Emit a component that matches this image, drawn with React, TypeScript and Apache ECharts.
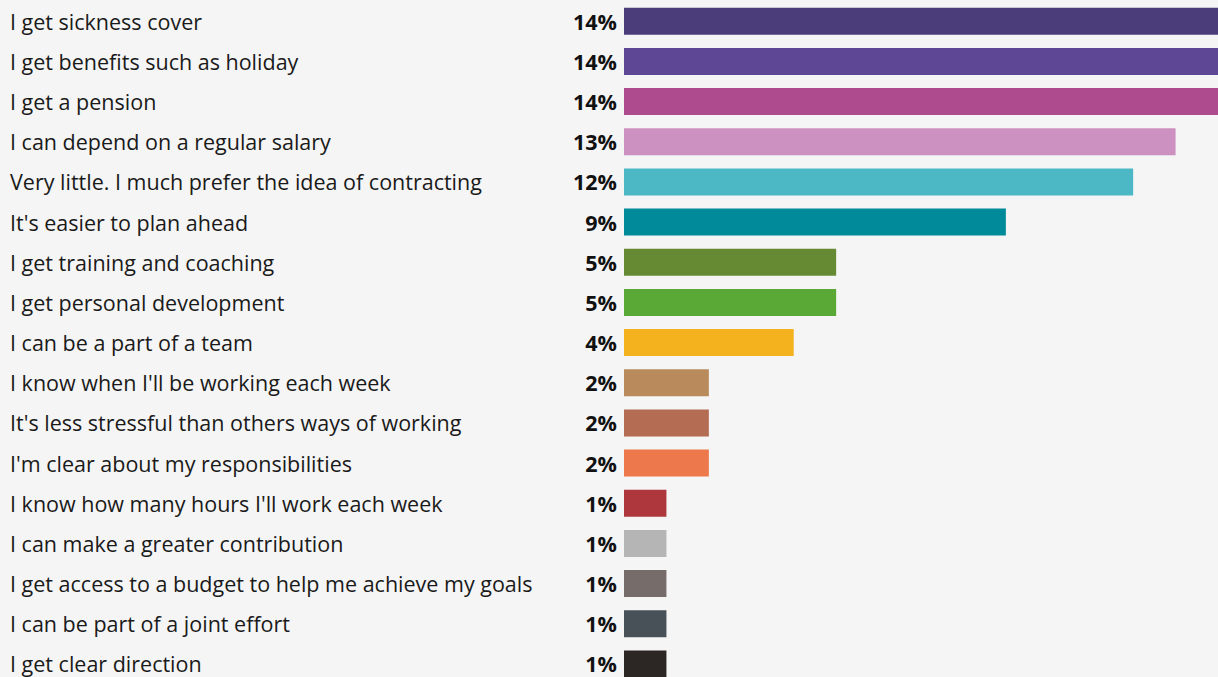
import React, { useEffect, useRef } from "react";
import * as echarts from "echarts";

const categories = [
  "I get sickness cover",
  "I get benefits such as holiday",
  "I get a pension",
  "I can depend on a regular salary",
  "Very little. I much prefer the idea of contracting",
  "It's easier to plan ahead",
  "I get training and coaching",
  "I get personal development",
  "I can be a part of a team",
  "I know when I'll be working each week",
  "It's less stressful than others ways of working",
  "I'm clear about my responsibilities",
  "I know how many hours I'll work each week",
  "I can make a greater contribution",
  "I get access to a budget to help me achieve my goals",
  "I can be part of a joint effort",
  "I get clear direction",
];

const values = [14, 14, 14, 13, 12, 9, 5, 5, 4, 2, 2, 2, 1, 1, 1, 1, 1];

const colors = [
  "#4b3d7a", "#5e4896", "#ae4a8e", "#cd91c1", "#4cb8c6", "#008a9a",
  "#668a33", "#5aa835", "#f5b21f", "#b98a5c", "#b46c52", "#ec784b",
  "#ad373d", "#b5b5b5", "#766c6a", "#475157", "#2c2624",
];

export default function App() {
  const ref = useRef<HTMLDivElement>(null);
  useEffect(() => {
    if (!ref.current) return;
    const chart = echarts.init(ref.current, null, { renderer: "svg" });
    const font = "'Open Sans', 'Noto Sans', sans-serif";
    chart.setOption({
      animation: false,
      backgroundColor: "#f5f5f5",
      grid: { left: 624, right: 0, top: 1.2, bottom: 0, containLabel: false },
      xAxis: {
        type: "value",
        min: 0,
        max: 14,
        show: false,
      },
      yAxis: [
        {
          type: "category",
          data: categories,
          inverse: true,
          position: "left",
          axisLine: { show: false },
          axisTick: { show: false },
          splitLine: { show: false },
          axisLabel: {
            align: "left",
            margin: 614,
            fontFamily: font,
            fontSize: 21.5,
            color: "#1a1a1a",
            padding: [3, 0, 0, 0],
          },
        },
        {
          type: "category",
          data: categories,
          inverse: true,
          position: "left",
          axisLine: { show: false },
          axisTick: { show: false },
          splitLine: { show: false },
          axisLabel: {
            align: "right",
            margin: 7,
            fontFamily: font,
            fontSize: 21.5,
            fontWeight: "bold",
            color: "#111",
            padding: [3, 0, 0, 0],
            formatter: (_v: string, i: number) => values[i] + "%",
          },
        },
      ],
      series: [
        {
          type: "bar",
          yAxisIndex: 0,
          barWidth: 27,
          data: values.map((v, i) => ({ value: v, itemStyle: { color: colors[i] } })),
        },
      ],
    });
    return () => chart.dispose();
  }, []);
  return (
    <div
      ref={ref}
      style={{ position: "fixed", left: 0, top: 0, width: 1218, height: 684, background: "#f5f5f5" }}
    />
  );
}
